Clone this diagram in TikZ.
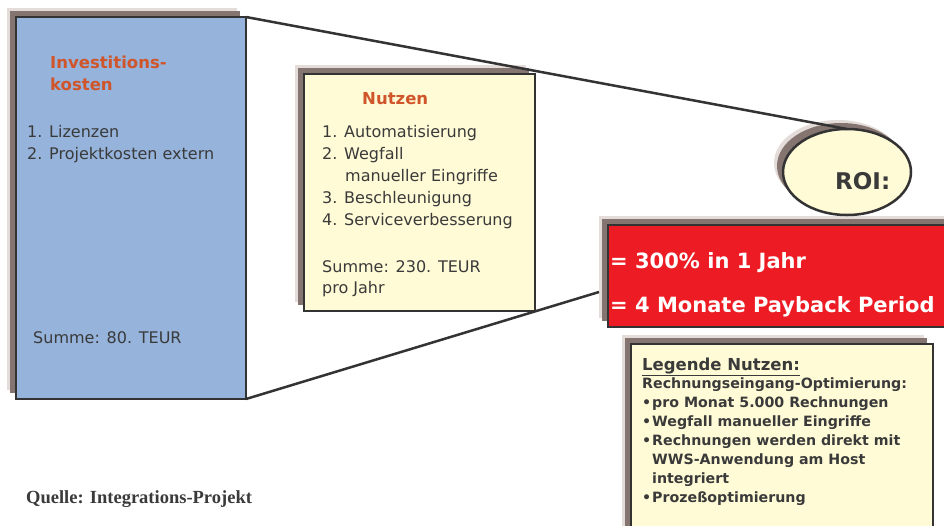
\documentclass[tikz,border=0pt]{standalone}
\usepackage{fontspec}
\setmainfont{DejaVu Sans}
\newfontfamily\quellefont{Liberation Serif}
\usetikzlibrary{shapes.geometric,shadows}
\definecolor{bluefill}{HTML}{95B3DB}
\definecolor{cream}{HTML}{FFFBD6}
\definecolor{darkline}{HTML}{333333}
\definecolor{shad}{HTML}{857571}
\definecolor{halo}{HTML}{E3DCD8}
\definecolor{orangetxt}{HTML}{D0552A}
\definecolor{redfill}{HTML}{ED1C24}
\definecolor{txt}{HTML}{3A3A3A}
\begin{document}
\begin{tikzpicture}[x=1pt,y=-1pt,
  shadowed/.style={general shadow={fill=halo,shadow xshift=-9pt,shadow yshift=9pt},
                   general shadow={fill=shad,shadow xshift=-6pt,shadow yshift=6pt}},
  box/.style={shadowed,draw=darkline,line width=2.5pt,anchor=north west,inner sep=0pt,outer sep=0pt},
  t/.style={anchor=base west,inner sep=0pt,text=txt,font=\fontsize{16}{16}\selectfont},
  ttl/.style={anchor=base west,inner sep=0pt,text=orangetxt,font=\fontsize{16.5}{16.5}\selectfont\bfseries},
  rt/.style={anchor=base west,inner sep=0pt,text=white,font=\fontsize{21}{21}\selectfont\bfseries},
  lt/.style={anchor=base west,inner sep=0pt,text=txt,font=\fontsize{14.2}{14.2}\selectfont\bfseries},
  conn/.style={draw=darkline,line width=2.5pt}
]
\useasboundingbox (0,0) rectangle (944,525);
\fill[white] (0,0) rectangle (944,525);
\clip (0,0) rectangle (944,525);

% boxes
\node[box,fill=bluefill,minimum width=230pt,minimum height=382pt] (inv) at (16,17) {};
\node[box,fill=cream,minimum width=231pt,minimum height=237pt] (nutz) at (304,74) {};
\node[box,fill=redfill,minimum width=345pt,minimum height=102pt] (red) at (608,225) {};
\node[box,fill=cream,minimum width=302pt,minimum height=230pt] (leg) at (631,344) {};
\node[shadowed,ellipse,draw=darkline,line width=2.5pt,fill=cream,minimum width=128pt,minimum height=86pt,inner sep=0pt,outer sep=0pt] (roi) at (847,172) {};

% connectors
\coordinate (redend) at (599,292);
\draw[conn] (inv.north east) -- (roi.north);
\draw[conn] (inv.south east) -- (redend);

% investment box text
\node[ttl] (inv1) at (50,68) {Investitions-};
\node[ttl] (inv2) at (50,90) {kosten};
\node[t] (inv3) at (27,137) {1. Lizenzen};
\node[t] (inv4) at (27,159) {2. Projektkosten extern};
\node[t] (inv5) at (33,343) {Summe: 80. TEUR};

% Nutzen box text
\node[ttl] (n0) at (362,104) {Nutzen};
\node[t] (n1) at (322,137) {1. Automatisierung};
\node[t] (n2) at (322,159) {2. Wegfall};
\node[t] (n3) at (345,181) {manueller Eingriffe};
\node[t] (n4) at (322,203) {3. Beschleunigung};
\node[t] (n5) at (322,225) {4. Serviceverbesserung};
\node[t] (n6) at (322,272) {Summe: 230. TEUR};
\node[t] (n7) at (322,293) {pro Jahr};

% ROI
\node[anchor=base west,inner sep=0pt,text=txt,font=\fontsize{23}{23}\selectfont\bfseries] (roit) at (835,189) {ROI:};

% red box text
\node[rt] (r1) at (610,268) {= 300\% in 1 Jahr};
\node[rt] (r2) at (610,312) {= 4 Monate Payback Period};

% legend text
\node[anchor=base west,inner sep=0pt,text=txt,font=\fontsize{16.5}{16.5}\selectfont\bfseries] (l0) at (642,370) {\underline{Legende Nutzen:}};
\node[lt] (l1) at (642,388) {Rechnungseingang-Optimierung:};
\node[lt] (b1) at (642,407) {•};
\node[lt] (l2) at (652,407) {pro Monat 5.000 Rechnungen};
\node[lt] (b2) at (642,426) {•};
\node[lt] (l3) at (652,426) {Wegfall manueller Eingriffe};
\node[lt] (b3) at (642,445) {•};
\node[lt] (l4) at (652,445) {Rechnungen werden direkt mit};
\node[lt] (l5) at (652,464) {WWS-Anwendung am Host};
\node[lt] (l6) at (652,483) {integriert};
\node[lt] (b4) at (642,502) {•};
\node[lt] (l7) at (652,502) {Prozeßoptimierung};

% source
\node[anchor=base west,inner sep=0pt,text=txt,font=\fontsize{18.5}{18.5}\quellefont\bfseries] (src) at (26,503) {Quelle: Integrations-Projekt};
\end{tikzpicture}
\end{document}
